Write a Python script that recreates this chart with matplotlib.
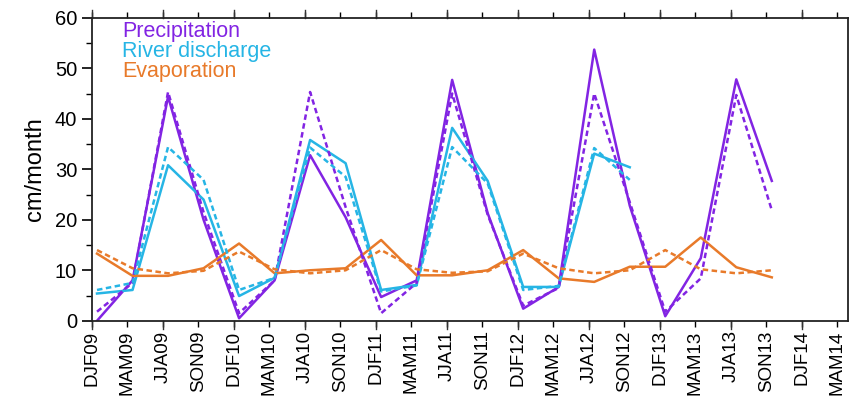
import numpy as np
import matplotlib
matplotlib.use('Agg')
import matplotlib.pyplot as plt
from matplotlib.ticker import MultipleLocator

plt.rcParams['font.family'] = ['Liberation Sans', 'DejaVu Sans']

# Season labels on the x axis
seasons = ['DJF09', 'MAM09', 'JJA09', 'SON09', 'DJF10', 'MAM10', 'JJA10', 'SON10',
           'DJF11', 'MAM11', 'JJA11', 'SON11', 'DJF12', 'MAM12', 'JJA12', 'SON12',
           'DJF13', 'MAM13', 'JJA13', 'SON13', 'DJF14', 'MAM14']

# Solid = observed, dashed = second estimate (cm/month)
precip_solid = [0, 8, 44.4, 20, 0.5, 8, 32.8, 20.5, 4.7, 8, 47.7, 21.3,
                2.4, 6.7, 53.7, 22.8, 0.9, 12.4, 47.8, 27.7]
precip_dash = [1.8, 7.5, 45.3, 21.5, 1.5, 8, 45.3, 22.5, 1.5, 7.5, 45, 21,
               3, 6.5, 45, 23.5, 1.8, 8.4, 44.7, 21.9]

river_solid = [5.4, 6.1, 30.8, 24, 4.9, 8.5, 35.8, 31.2, 6.1, 7.1, 38.2, 27.7,
               6.7, 6.7, 33.1, 30.4]
river_dash = [6.1, 7.5, 34.4, 27.9, 6.1, 8.5, 34.3, 28.5, 5.8, 7.0, 34.4, 27.2,
              6.1, 6.9, 34.2, 27.9]

evap_solid = [13.3, 8.9, 8.9, 10.4, 15.3, 9.4, 10.0, 10.4, 16.0, 9.0, 9.0, 10.0,
              14.0, 8.4, 7.7, 10.7, 10.7, 16.5, 10.6, 8.6]
evap_dash = [14.0, 10.4, 9.4, 9.9, 13.7, 10.2, 9.4, 10.0, 14.0, 10.2, 9.5, 9.8,
             13.3, 10.4, 9.4, 10.0, 14.0, 10.2, 9.4, 10.0]

c_precip = '#8224e3'
c_river = '#26b5e5'
c_evap = '#e87a2a'

fig = plt.figure(figsize=(8.49, 4.04), dpi=100)
ax = fig.add_axes([0.108, 0.206, 0.891, 0.75])

# Points sit slightly right of the season tick (mid-season)
off = 0.15
dash = (0, (2.2, 1.4))

for vals, col in [(precip_solid, c_precip), (river_solid, c_river), (evap_solid, c_evap)]:
    x = np.arange(len(vals)) + off
    ax.plot(x, vals, color=col, lw=1.8)
for vals, col in [(precip_dash, c_precip), (river_dash, c_river), (evap_dash, c_evap)]:
    x = np.arange(len(vals)) + off
    ax.plot(x, vals, color=col, lw=1.8, linestyle=dash)

ax.set_xlim(0, 21.3)
ax.set_ylim(0, 60)

ax.set_xticks(np.arange(len(seasons)))
ax.set_xticklabels(seasons, rotation=90, fontsize=13.5)
ax.yaxis.set_major_locator(MultipleLocator(10))
ax.yaxis.set_minor_locator(MultipleLocator(5))
ax.tick_params(axis='y', which='major', direction='out', length=7, width=1.2, labelsize=14.5)
ax.tick_params(axis='y', which='minor', direction='out', length=4, width=1.0)
ax.tick_params(axis='x', which='major', direction='out', length=4, width=1.0,
               top=True, bottom=True, pad=3)

# long ticks every other season (DJF and JJA), top and bottom
for i in range(0, len(seasons), 2):
    ax.plot([i, i], [0, -1.6], color='#333333', lw=1.0, clip_on=False)
    ax.plot([i, i], [60, 61.6], color='#333333', lw=1.0, clip_on=False)

for s in ax.spines.values():
    s.set_linewidth(1.3)
    s.set_color('#222222')

ax.set_ylabel('cm/month', fontsize=17, labelpad=6)

# Coloured legend text
ax.text(0.04, 0.99, 'Precipitation', color=c_precip, fontsize=15.5,
        transform=ax.transAxes, va='top')
ax.text(0.04, 0.924, 'River discharge', color=c_river, fontsize=15.5,
        transform=ax.transAxes, va='top')
ax.text(0.04, 0.858, 'Evaporation', color=c_evap, fontsize=15.5,
        transform=ax.transAxes, va='top')

fig.savefig('out.png', dpi=100)
